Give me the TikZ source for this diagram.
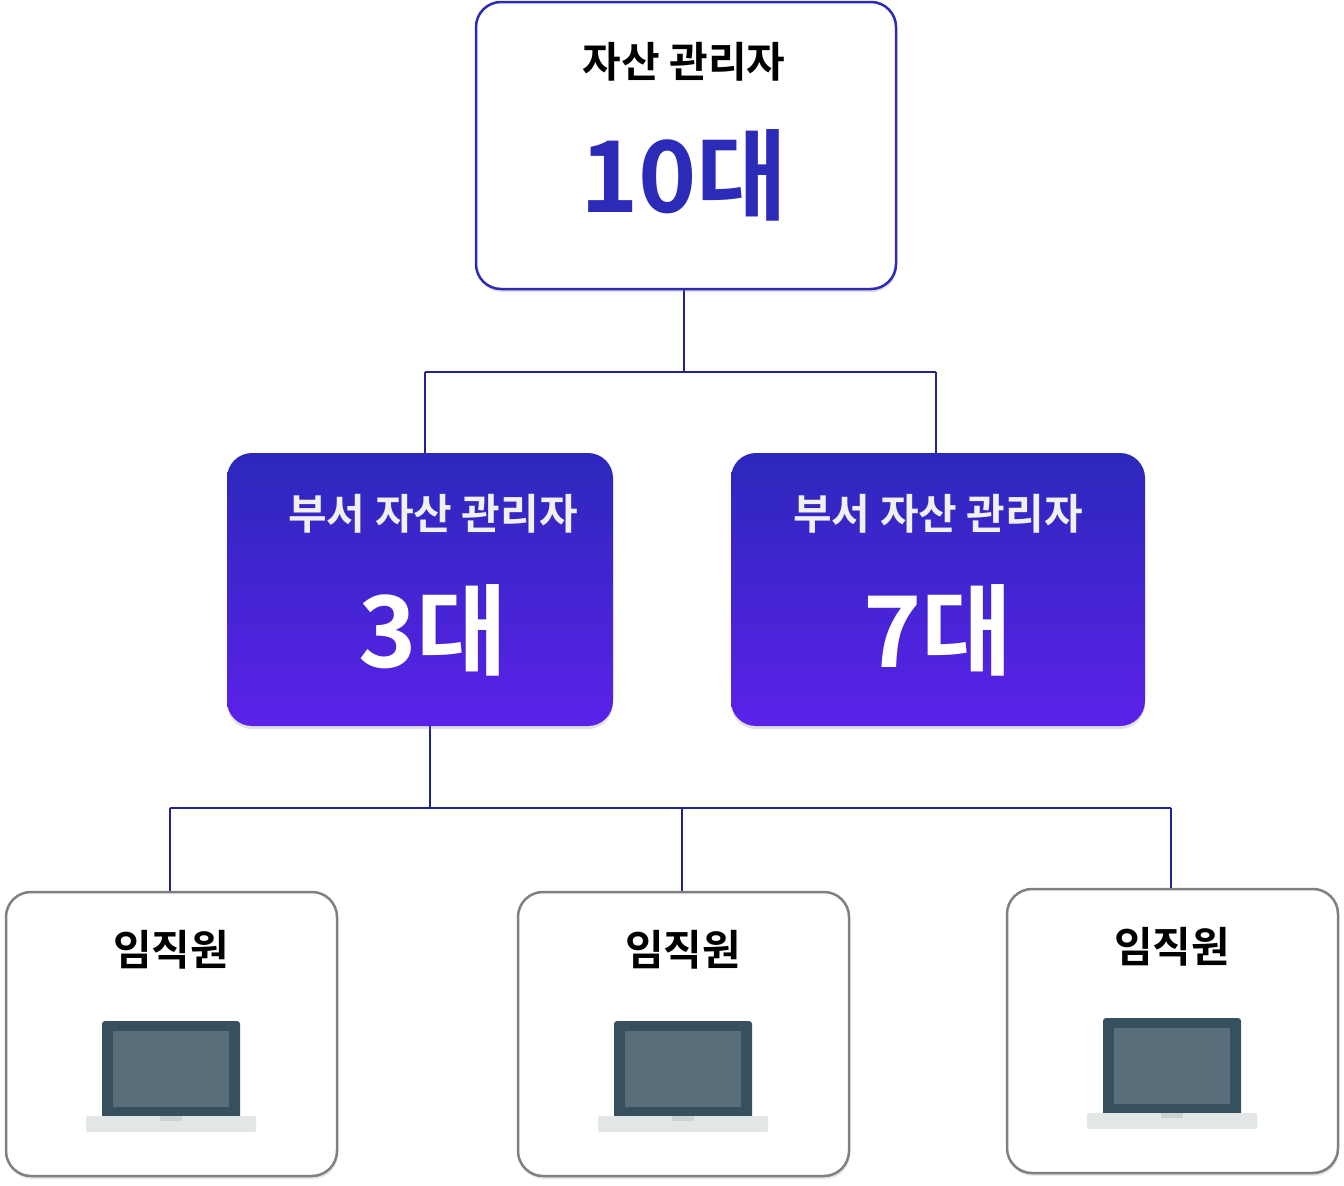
\documentclass[tikz,border=0pt]{standalone}
\usepackage{fontspec}
\setmainfont{Noto Sans CJK KR}[BoldFont={* Bold}]
\usetikzlibrary{shadows}
\definecolor{navy}{HTML}{2B2BB8}
\definecolor{gtop}{HTML}{2C28BC}
\definecolor{gbot}{HTML}{5B21E8}
\definecolor{scr}{HTML}{37505E}
\definecolor{scri}{HTML}{586F7B}
\definecolor{base}{HTML}{E3E6E6}
\begin{document}
\begin{tikzpicture}[x=1pt,y=-1pt,
  conn/.style={draw=navy!80!black,line width=2pt},
  topbox/.style={draw=navy,line width=2.5pt,fill=white,rounded corners=25pt,drop shadow={opacity=0.25,shadow xshift=1pt,shadow yshift=-3pt}},
  midbox/.style={rounded corners=25pt,top color=gtop,bottom color=gbot,drop shadow={opacity=0.25,shadow xshift=0pt,shadow yshift=-3pt}},
  botbox/.style={draw=gray,line width=2.5pt,fill=white,rounded corners=25pt,drop shadow={opacity=0.2,shadow xshift=1pt,shadow yshift=-3pt}},
  lab/.style={font=\bfseries\fontsize{42}{46}\selectfont},
  big/.style={font=\bfseries\fontsize{99}{104}\selectfont}]
\useasboundingbox (0,0) rectangle (1344,1186);
% connectors
\coordinate (t1) at (684,372); \coordinate (tl) at (425,372); \coordinate (tr) at (936,372);
\coordinate (m1) at (430,808); \coordinate (bl) at (170,808); \coordinate (bm) at (682,808); \coordinate (br) at (1171,808);
\draw[conn] (684,289) -- (t1);
\draw[conn] (tl) -- (tr);
\draw[conn] (tl) -- (425,453);
\draw[conn] (tr) -- (936,453);
\draw[conn] (430,726) -- (m1);
\draw[conn] (bl) -- (br);
\draw[conn] (bl) -- (170,891);
\draw[conn] (bm) -- (682,891);
\draw[conn] (br) -- (1171,888);
% top box
\path[topbox] (476,2) rectangle (896,289);
\node[lab] (ta) at (684,62) {자산 관리자};
\node[big,text=navy] (tb) at (684,175) {10대};
% mid boxes
\foreach \a/\b/\cx/\num [count=\i] in {227/613/433/3,731/1145/938/7}{
  \path[midbox] (\a,453) rectangle (\b,726);
  \node[lab,text=white!88!gray] (ma\i) at (\cx,514) {부서 자산 관리자};
  \node[big,text=white] (mb\i) at (\cx,630) {{\num}대};
}
% bottom boxes
\foreach \a/\y [count=\i] in {6/892,518/892,1007/889}{
  \path[botbox] (\a,\y) rectangle ({\a+331},{\y+284});
  \node[lab] (e\i) at ({\a+165},{\y+58}) {임직원};
  \begin{scope}[shift={({\a+165},{\y+129})}]
    \fill[scr,rounded corners=3pt] (-69,0) rectangle (69,98);
    \fill[scri] (-58,10) rectangle (58,86);
    \fill[base,rounded corners=2pt] (-85,95) rectangle (85,111);
    \fill[base!80!gray] (-11,95) rectangle (11,100);
  \end{scope}
}
\end{tikzpicture}
\end{document}
